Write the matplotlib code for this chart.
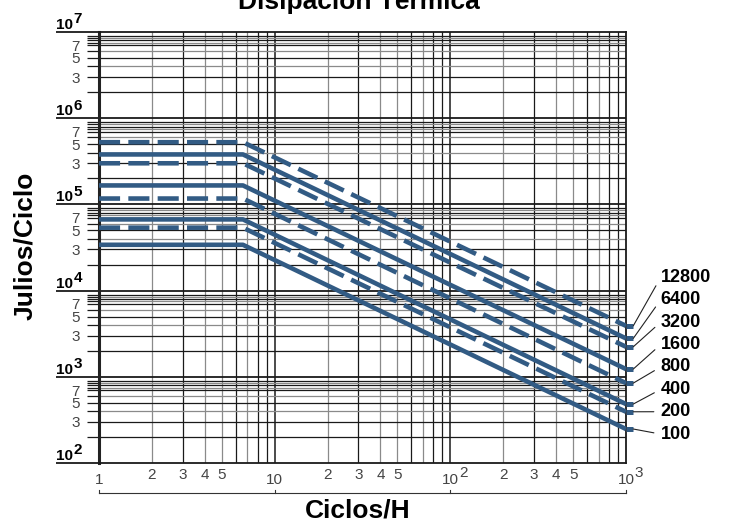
import matplotlib
matplotlib.use('Agg')
import matplotlib.pyplot as plt
from matplotlib.ticker import FixedLocator, NullFormatter, FuncFormatter, NullLocator

plt.rcParams['font.family'] = ['Liberation Sans', 'DejaVu Sans']

# Power ratings and their dissipation curves (J/cycle):
# flat level at low cycle rates, value reached at 1000 cycles/h
ratings = ['12800', '6400', '3200', '1600', '800', '400', '200', '100']
flat_joules = [5.27e5, 3.8e5, 3.0e5, 1.66e5, 1.17e5, 6.7e4, 5.37e4, 3.4e4]
end_joules = [3900, 2790, 2230, 1230, 845, 483, 393, 248]
dashed = [True, False, True, False, True, False, True, False]
knee_cycles = 6.6
min_cycles = 1
max_cycles = 1000

x_decades = [0, 1, 2, 3]
y_decades = [2, 3, 4, 5, 6, 7]
x_minor = [2, 3, 4, 5, 6, 7, 8, 9]
x_minor_gray = [2, 4, 5, 7]
x_minor_labels = [2, 3, 4, 5]
y_minor = [2, 3, 4, 5, 6, 7, 7.5, 8, 8.5, 9]
y_minor_gray = [4, 6, 7.5, 8.5]
y_minor_labels = [3, 5, 7]

line_color = '#325b84'
dark = '#1a1a1a'
gray = '#8a8a8a'
label_color = '#444444'

fig = plt.figure(figsize=(7.29, 5.24), dpi=100)
ax = fig.add_axes([0.1358, 0.1164, 0.7229, 0.8225])
ax.set_xscale('log')
ax.set_yscale('log')
ax.set_xlim(min_cycles, max_cycles)
ax.set_ylim(10 ** y_decades[0], 10 ** y_decades[-1])

# grid lines, drawn by hand so each one can get its own shade
for d in x_decades[:-1]:
    for m in x_minor:
        ax.axvline(m * 10 ** d, color=gray if m in x_minor_gray else dark, lw=0.9, zorder=1)
for d in x_decades[1:-1]:
    ax.axvline(10 ** d, color=dark, lw=1.1, zorder=1)
for d in y_decades[:-1]:
    for m in y_minor:
        ax.axhline(m * 10 ** d, color=gray if m in y_minor_gray else dark, lw=0.9, zorder=1)
for d in y_decades[1:-1]:
    ax.axhline(10 ** d, color=dark, lw=1.3, zorder=1)

# y ticks: long decade ticks, short minor ticks with 3/5/7 labels
ax.yaxis.set_major_locator(FixedLocator([10.0 ** d for d in y_decades]))
ax.yaxis.set_major_formatter(NullFormatter())
minor_pos = [m * 10.0 ** d for d in y_decades[:-1] for m in y_minor]
ax.yaxis.set_minor_locator(FixedLocator(minor_pos))


def minor_fmt(v, pos):
    m = round(v / 10 ** int(f'{v:e}'.split('e')[1]), 2)
    return f'{m:g}' if m in y_minor_labels else ''


ax.yaxis.set_minor_formatter(FuncFormatter(minor_fmt))
ax.tick_params(axis='y', which='major', length=31, width=1.3, color=dark)
ax.tick_params(axis='y', which='minor', length=8.6, width=0.9, color=dark,
               labelsize=11, labelcolor=label_color, pad=5)
ax.xaxis.set_major_locator(NullLocator())
ax.xaxis.set_minor_locator(NullLocator())

for side in ['top', 'bottom', 'right']:
    ax.spines[side].set_linewidth(1.3)
    ax.spines[side].set_color(dark)
ax.spines['left'].set_linewidth(2.2)
ax.spines['left'].set_color('#222222')

# decade labels on the y axis (10 + superscript)
yt = ax.get_yaxis_transform()
for d in y_decades:
    t = ax.text(-0.0816, 10.0 ** d, '10', transform=yt, ha='left', va='bottom',
                fontsize=11, fontweight='bold')
    ax.annotate(str(d), xy=(1, 1), xycoords=t, xytext=(0.2, 4), textcoords='offset points',
                ha='left', va='top', fontsize=11, fontweight='bold')

# x labels
xt = ax.get_xaxis_transform()
for d in x_decades[:-1]:
    for m in x_minor_labels:
        ax.text(m * 10 ** d, -0.028, str(m), transform=xt, ha='center', va='center',
                fontsize=11, color=label_color)
for d in x_decades:
    base = '1' if d == 0 else '10'
    t = ax.text(10 ** d, -0.040, base, transform=xt, ha='center', va='center',
                fontsize=11, color=label_color)
    if d >= 2:
        ax.annotate(str(d), xy=(1, 1), xycoords=t, xytext=(0.2, 5), textcoords='offset points',
                    ha='left', va='top', fontsize=11, color=label_color)

# bracket under the x labels
ax.plot([min_cycles, max_cycles], [-0.0696, -0.0696], transform=xt, color='#333333',
        lw=0.8, clip_on=False)
for d in x_decades:
    ax.plot([10 ** d, 10 ** d], [-0.0696, -0.0626], transform=xt, color='#333333',
            lw=0.8, clip_on=False)

# dissipation curves
for i, name in enumerate(ratings):
    xs = [min_cycles, knee_cycles, max_cycles]
    ys = [flat_joules[i], flat_joules[i], end_joules[i]]
    ls = (0, (4.6, 1.8)) if dashed[i] else '-'
    ax.plot(xs, ys, color=line_color, lw=3.3, ls=ls, dash_capstyle='butt',
            solid_capstyle='butt', solid_joinstyle='round', zorder=3)
    ax.plot([max_cycles, max_cycles * 1.1], [end_joules[i], end_joules[i]],
            color=line_color, lw=3.6, solid_capstyle='butt', clip_on=False, zorder=3)
    ax.annotate(name, xy=(max_cycles * 1.1, end_joules[i]), xycoords='data',
                xytext=(1.066, 0.431 - 0.052 * i), textcoords='axes fraction',
                ha='left', va='center', fontsize=13, fontweight='bold',
                arrowprops=dict(arrowstyle='-', lw=0.8, color='#222222',
                                shrinkA=3, shrinkB=0, relpos=(0, 0.5)),
                annotation_clip=False)

fig.text(0.4925, 0.982, 'Disipación Térmica', ha='center', va='baseline',
         fontsize=19, fontweight='bold')
fig.text(0.49, 0.025, 'Ciclos/H', ha='center', va='center', fontsize=19, fontweight='bold')
fig.text(0.034, 0.53, 'Julios/Ciclo', ha='center', va='center', rotation=90,
         fontsize=19, fontweight='bold')

fig.savefig('out.png', dpi=100)
